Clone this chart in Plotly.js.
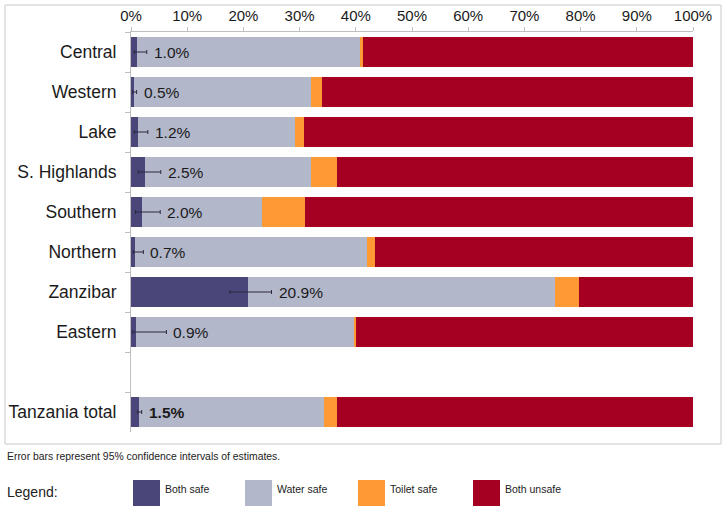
<!DOCTYPE html>
<html>
<head>
<meta charset="utf-8">
<script src="https://cdn.plot.ly/plotly-3.0.1.min.js"></script>
<style>
  body { margin: 0; background: #fff; }
  #plot { width: 726px; height: 507px; }
</style>
</head>
<body>
<div id="plot"></div>
<script>
// regions, top to bottom (the blank one is the gap before the total)
let regions = ['Central', 'Western', 'Lake', 'S. Highlands', 'Southern', 'Northern', 'Zanzibar', 'Eastern', ' ', 'Tanzania total'];

let bothSafe   = [1.0, 0.5, 1.2, 2.5, 2.0, 0.7, 20.9, 0.9, null, 1.5];
let waterSafe  = [39.7, 31.5, 27.9, 29.6, 21.3, 41.3, 54.5, 38.8, null, 32.8];
let toiletSafe = [0.6, 1.9, 1.6, 4.6, 7.7, 1.4, 4.3, 0.3, null, 2.4];
let bothUnsafe = [58.7, 66.1, 69.3, 63.3, 69.0, 56.6, 20.3, 60.0, null, 63.3];

// 95% CI around "both safe"
let errPlus  = [1.8, 0.5, 1.8, 2.8, 3.2, 1.5, 4.1, 5.4, null, 0.4];
let errMinus = [0.4, 0.2, 0.6, 1.2, 1.2, 0.3, 3.3, 0.6, null, 0.3];

let seriesNames = ['Both safe', 'Water safe', 'Toilet safe', 'Both unsafe'];
let colors = ['#4b4679', '#b3b7ca', '#ff9933', '#a50021'];

let font = 'Liberation Sans, Arial, sans-serif';
let narrow = 'Liberation Sans Narrow, Arial Narrow, Liberation Sans, sans-serif';

let values = [bothSafe, waterSafe, toiletSafe, bothUnsafe];
let traces = values.map((v, i) => ({
    type: 'bar',
    orientation: 'h',
    y: regions,
    x: v,
    name: seriesNames[i],
    marker: { color: colors[i], line: { width: 0 } },
    hoverinfo: 'x+y+name'
}));

// error bars as a separate scatter so they sit on top of the stack
traces.push({
    type: 'scatter',
    mode: 'markers',
    y: regions,
    x: bothSafe,
    marker: { size: 1, opacity: 0 },
    error_x: {
        type: 'data',
        symmetric: false,
        array: errPlus,
        arrayminus: errMinus,
        color: '#2b2940',
        thickness: 1,
        width: 2
    },
    hoverinfo: 'skip'
});

// value labels to the right of each error bar
let annotations = [];
regions.forEach((r, i) => {
    if (bothSafe[i] === null) return;
    let label = bothSafe[i].toFixed(1) + '%';
    let isTotal = r === 'Tanzania total';
    annotations.push({
        x: bothSafe[i] + errPlus[i],
        y: r,
        xref: 'x', yref: 'y',
        text: isTotal ? '<b>' + label + '</b>' : label,
        showarrow: false,
        xanchor: 'left',
        xshift: 5,
        font: { family: font, size: 15.5, color: '#1a1a1a' }
    });
});

// footnote and hand-made legend
annotations.push({
    x: -0.224, y: -0.06, xref: 'paper', yref: 'paper',
    text: 'Error bars represent 95% confidence intervals of estimates.',
    showarrow: false, xanchor: 'left', yanchor: 'middle',
    font: { family: narrow, size: 10.4, color: '#222' }
});
annotations.push({
    x: -0.224, y: -0.15, xref: 'paper', yref: 'paper',
    text: 'Legend:',
    showarrow: false, xanchor: 'left', yanchor: 'middle',
    font: { family: font, size: 14, color: '#222' }
});

let shapes = [{
    type: 'rect', xref: 'paper', yref: 'paper',
    x0: -0.2242, x1: 1.0498, y0: -0.03, y1: 1.0675,
    line: { color: '#c8c8c8', width: 1 }
}];

let swatchX = [133, 245, 358, 473];
seriesNames.forEach((n, i) => {
    let x0 = (swatchX[i] - 131) / 562;
    let x1 = (swatchX[i] + 27 - 131) / 562;
    shapes.push({
        type: 'rect', xref: 'paper', yref: 'paper',
        x0: x0, x1: x1, y0: (432 - 506) / 400, y1: (432 - 480) / 400,
        fillcolor: colors[i], line: { width: 0 }
    });
    annotations.push({
        x: x1 + 3 / 562, y: (432 - 489) / 400, xref: 'paper', yref: 'paper',
        text: n, showarrow: false, xanchor: 'left', yanchor: 'middle',
        font: { family: narrow, size: 10.5, color: '#222' }
    });
});

let layout = {
    width: 726,
    height: 507,
    margin: { l: 131, r: 33, t: 32, b: 75 },
    paper_bgcolor: '#fff',
    plot_bgcolor: '#fff',
    barmode: 'stack',
    bargap: 0.25,
    showlegend: false,
    font: { family: font, size: 15, color: '#1a1a1a' },
    xaxis: {
        side: 'top',
        range: [0, 100],
        dtick: 10,
        ticksuffix: '%',
        showgrid: false,
        zeroline: false,
        showline: true,
        linecolor: '#bfbfbf',
        ticks: 'outside',
        ticklen: 4,
        tickcolor: '#bfbfbf',
        tickfont: { family: font, size: 15, color: '#1a1a1a' },
        fixedrange: true
    },
    yaxis: {
        type: 'category',
        categoryorder: 'array',
        categoryarray: regions,
        range: [9.5, -0.5],
        showgrid: false,
        zeroline: false,
        showline: true,
        linecolor: '#bfbfbf',
        ticks: 'outside',
        tickson: 'boundaries',
        ticklen: 5,
        tickcolor: '#bfbfbf',
        ticklabelstandoff: 10,
        tickfont: { family: font, size: 17.5, color: '#1a1a1a' },
        fixedrange: true
    },
    annotations: annotations,
    shapes: shapes
};

Plotly.newPlot('plot', traces, layout, { displayModeBar: false, staticPlot: true });
</script>
</body>
</html>
